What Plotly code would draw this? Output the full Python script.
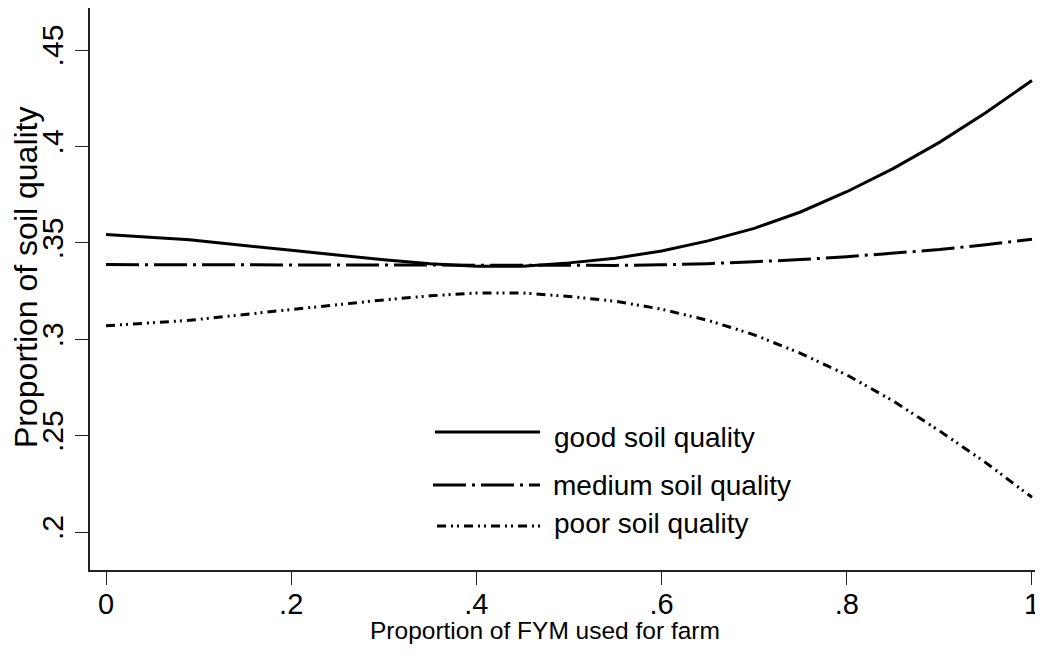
import plotly.graph_objects as go

# ---- data ----
fym = [0, 0.09, 0.2, 0.3, 0.35, 0.4, 0.45, 0.5, 0.55, 0.6, 0.65, 0.7, 0.75, 0.8, 0.85, 0.9, 0.95, 1.0]
good = [0.3543, 0.3516, 0.3461, 0.3412, 0.3392, 0.3378, 0.3378, 0.3396, 0.3420, 0.3458,
        0.3510, 0.3575, 0.3660, 0.3765, 0.3885, 0.4021, 0.4175, 0.4342]
medium = [0.3387, 0.3386, 0.3385, 0.3384, 0.3383, 0.3382, 0.3382, 0.3382, 0.3383, 0.3386,
          0.3392, 0.3402, 0.3413, 0.3428, 0.3445, 0.3465, 0.3490, 0.3518]
poor = [0.3070, 0.3098, 0.3154, 0.3204, 0.3225, 0.3240, 0.3240, 0.3222, 0.3197, 0.3156,
        0.3098, 0.3023, 0.2927, 0.2815, 0.2680, 0.2525, 0.2360, 0.2180]

series_names = ["good soil quality", "medium soil quality", "poor soil quality"]
x_ticks = [0, 0.2, 0.4, 0.6, 0.8, 1.0]
x_tick_labels = ["0", ".2", ".4", ".6", ".8", "1"]
y_ticks = [0.2, 0.25, 0.3, 0.35, 0.4, 0.45]
y_tick_labels = [".2", ".25", ".3", ".35", ".4", ".45"]
x_title = "Proportion of FYM used for farm"
y_title = "Proportion of soil quality"

FONT = "Liberation Sans, Arial, sans-serif"
dashes = ["solid", "33px,6px,3px,6px", "9px,5px,2px,4px,2px,5px"]

fig = go.Figure()
for name, ys, dash in zip(series_names, [good, medium, poor], dashes):
    fig.add_trace(go.Scatter(x=fym, y=ys, mode="lines", name=name,
                             line=dict(color="black", width=3, dash=dash),
                             showlegend=False))

# page has an 8px body margin; figure sized to fill the rest of the window
OFF = 8
W, H = 1043 - OFF, 654 - OFF
# plot area in page pixels: x 90..1043, y 8..570
L, R, T, B = 90 - OFF, 0, 8 - OFF, (654 - 570)
pw, ph = W - L - R, H - T - B

def px(xp):  # page pixel -> paper x
    return (xp - OFF - L) / pw

def py(yp):  # page pixel -> paper y
    return (H - B - (yp - OFF)) / ph

# legend (drawn inside plot region)
legend_rows = [(432, 437, 552), (485, 485, 551), (526, 523, 552)]
legend_x0 = [435, 433, 437]
for (ly, ty, tx), x0, name, dash in zip(legend_rows, legend_x0, series_names, dashes):
    fig.add_shape(type="line", xref="paper", yref="paper",
                  x0=px(x0), x1=px(540), y0=py(ly), y1=py(ly),
                  line=dict(color="black", width=3, dash=dash))
    fig.add_annotation(text=name, xref="paper", yref="paper", x=px(tx), y=py(ty),
                       xanchor="left", yanchor="middle", showarrow=False,
                       font=dict(family=FONT, size=28, color="black"))

# axis titles
fig.add_annotation(text=x_title, xref="paper", yref="paper", x=px(545), y=py(630),
                   xanchor="center", yanchor="middle", showarrow=False,
                   font=dict(family=FONT, size=24.5, color="black"))
fig.add_annotation(text=y_title, xref="paper", yref="paper", x=px(26), y=py(277),
                   xanchor="center", yanchor="middle", showarrow=False, textangle=-90,
                   font=dict(family=FONT, size=32, color="black"))

fig.update_layout(
    width=W, height=H,
    margin=dict(l=L, r=R, t=T, b=B, pad=0),
    paper_bgcolor="white", plot_bgcolor="white",
    font=dict(family=FONT, color="black"),
    xaxis=dict(range=[-0.0173, 1.0119], tickvals=x_ticks, ticktext=x_tick_labels,
               showgrid=False, zeroline=False, showline=True, linecolor="#222",
               linewidth=1.5, ticks="outside", ticklen=13, tickwidth=1.3, tickcolor="#222",
               ticklabelstandoff=-6,
               tickfont=dict(family=FONT, size=29, color="black")),
    yaxis=dict(range=[0.1803, 0.4718], tickvals=y_ticks, ticktext=y_tick_labels,
               showgrid=False, zeroline=False, showline=True, linecolor="#222",
               linewidth=1.5, ticks="outside", ticklen=13, tickwidth=1.3, tickcolor="#222",
               tickangle=-90, ticklabelstandoff=0,
               tickfont=dict(family=FONT, size=30, color="black")),
)

fig.write_html("out.html")
